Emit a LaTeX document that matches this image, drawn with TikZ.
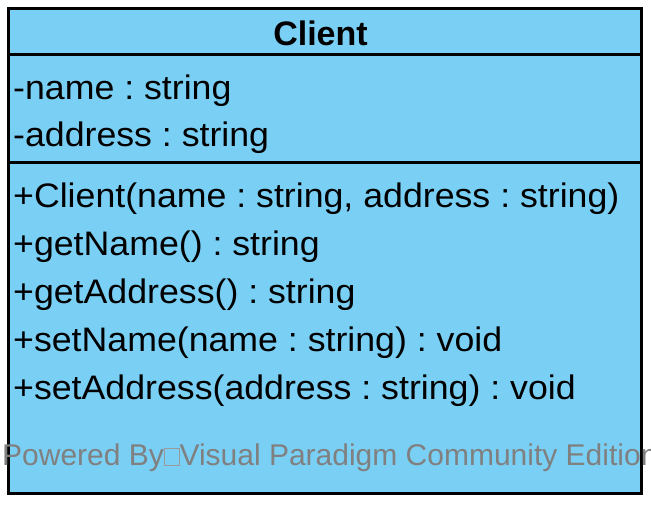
\documentclass[tikz,border=0pt]{standalone}
\usepackage{fontspec}
\usepackage{graphicx}
\setmainfont{Liberation Sans}
\frenchspacing
\definecolor{classfill}{RGB}{122,207,244}
\definecolor{wmgray}{RGB}{128,128,128}
\newcommand\missingglyph{{\color{wmgray!80}\setlength\fboxsep{0pt}\setlength\fboxrule{0.8pt}\fbox{\rule{0pt}{16pt}\hspace{14pt}}}}
\newcommand\mtxt[1]{\scalebox{1.05}[1]{\fontsize{34}{40}\selectfont #1}}
\tikzset{
  member/.style={anchor=base west, inner sep=0pt, font=\fontsize{34}{40}\selectfont},
  heavy/.style={line width=3pt},
}
\begin{document}
\begin{tikzpicture}[x=1pt,y=-1pt]
\useasboundingbox (0,0) rectangle (651,504);
\clip (0,0) rectangle (651,504);
\node[draw, heavy, fill=classfill, minimum width=632.5pt, minimum height=485pt, anchor=north west, inner sep=0pt] (box) at (7,7) {};
\coordinate (s1l) at (7,54);
\coordinate (s1r) at (639.5,54);
\coordinate (s2l) at (7,162);
\coordinate (s2r) at (639.5,162);
\draw[heavy] (s1l) -- (s1r);
\draw[heavy] (s2l) -- (s2r);
\node[anchor=base, inner sep=0pt, font=\fontsize{34}{40}\selectfont\bfseries] (title) at (320.5,45) {Client};
\node[member] (a1) at (13,99) {\mtxt{-name : string}};
\node[member] (a2) at (13,146) {\mtxt{-address : string}};
\node[member] (m1) at (13,207) {\mtxt{+Client(name : string, address : string)}};
\node[member] (m2) at (13,255) {\mtxt{+getName() : string}};
\node[member] (m3) at (13,303) {\mtxt{+getAddress() : string}};
\node[member] (m4) at (13,351) {\mtxt{+setName(name : string) : void}};
\node[member] (m5) at (13,399) {\mtxt{+setAddress(address : string) : void}};
\node[anchor=base west, inner sep=0pt, text=wmgray, font=\fontsize{30}{36}\selectfont] (wm) at (2,465) {Powered By\missingglyph Visual Paradigm Community Edition};
\end{tikzpicture}
\end{document}
